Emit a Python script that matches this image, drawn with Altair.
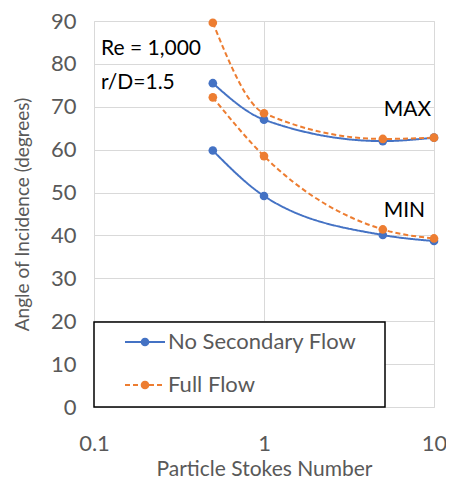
import altair as alt
import pandas as pd

stokes = [0.5, 1, 5, 10]
nosec_max = [75.5, 67.0, 62.0, 62.8]
nosec_min = [59.8, 49.2, 40.1, 38.7]
full_max = [89.6, 68.5, 62.5, 62.8]
full_min = [72.2, 58.5, 41.4, 39.3]

BLUE = "#4472C4"
ORANGE = "#ED7D31"
FONT = "Lato"
GREY = "#595959"

rows = []
for name, ys, case in [("No Secondary Flow", nosec_max, "max"), ("No Secondary Flow", nosec_min, "min"),
                       ("Full Flow", full_max, "max"), ("Full Flow", full_min, "min")]:
    for x, y in zip(stokes, ys):
        rows.append({"st": x, "angle": y, "series": name, "grp": name + case})
df = pd.DataFrame(rows)

xscale = alt.Scale(type="log", domain=[0.1, 10], nice=False)
yscale = alt.Scale(domain=[0, 90], nice=False)

xenc = alt.X("st:Q", scale=xscale,
             axis=alt.Axis(title="Particle Stokes Number", values=[0.1, 1, 10],
                           labelExpr="datum.value < 1 ? '0.1' : format(datum.value, 'd')",
                           ticks=False, domain=False, grid=True, gridColor="#d9d9d9",
                           labelFontSize=22, labelColor=GREY, labelFont=FONT, labelPadding=26,
                           titleFontSize=21, titleColor=GREY, titleFont=FONT, titleFontWeight="normal",
                           titlePadding=4, labelFlush=False))
yenc = alt.Y("angle:Q", scale=yscale,
             axis=alt.Axis(title="Angle of Incidence (degrees)", values=list(range(0, 100, 10)),
                           ticks=False, domain=False, grid=True, gridColor="#d9d9d9",
                           labelFontSize=22, labelColor=GREY, labelFont=FONT, labelPadding=18,
                           titleFontSize=19, titleColor=GREY, titleFont=FONT, titleFontWeight="normal",
                           titlePadding=18))

color = alt.Color("series:N", scale=alt.Scale(domain=["No Secondary Flow", "Full Flow"], range=[BLUE, ORANGE]), legend=None)
dash = alt.StrokeDash("series:N", scale=alt.Scale(domain=["No Secondary Flow", "Full Flow"], range=[[1, 0], [5, 3]]), legend=None)

base = alt.Chart(df)
lines = base.mark_line(interpolate="monotone", strokeWidth=2).encode(x=xenc, y=yenc, color=color, strokeDash=dash, detail="grp:N")
points = base.mark_circle(size=75, opacity=1).encode(x="st:Q", y="angle:Q", color=color)

ann_text = ["Re = 1,000", "r/D=1.5", "MAX", "MIN"]
ann_x = [0.11, 0.11, 6.97, 6.7]
ann_y = [83.5, 75.5, 69.2, 45.7]
ann_align = ["left", "left", "center", "center"]
ann = pd.DataFrame({"t": ann_text, "x": ann_x, "y": ann_y, "a": ann_align})
ann_left = alt.Chart(ann[ann.a == "left"]).mark_text(align="left", baseline="middle", fontSize=21, font=FONT, color="black").encode(x="x:Q", y="y:Q", text="t:N")
ann_center = alt.Chart(ann[ann.a == "center"]).mark_text(align="center", baseline="middle", fontSize=21, font=FONT, color="black").encode(x="x:Q", y="y:Q", text="t:N")

# manual legend (pixel positions inside plot area)
leg_names = ["No Secondary Flow", "Full Flow"]
one = pd.DataFrame({"a": [0]})
box = alt.Chart(one).mark_rect(fill="white", stroke="black", strokeWidth=1.5).encode(
    x=alt.value(0), x2=alt.value(291), y=alt.value(301), y2=alt.value(386))
leg_line1 = alt.Chart(one).mark_rule(color=BLUE, strokeWidth=2).encode(
    x=alt.value(31), x2=alt.value(71), y=alt.value(321))
leg_line2 = alt.Chart(one).mark_rule(color=ORANGE, strokeWidth=2, strokeDash=[5, 3]).encode(
    x=alt.value(31), x2=alt.value(71), y=alt.value(364))
leg_pt1 = alt.Chart(one).mark_circle(size=75, color=BLUE, opacity=1).encode(x=alt.value(51), y=alt.value(321))
leg_pt2 = alt.Chart(one).mark_circle(size=75, color=ORANGE, opacity=1).encode(x=alt.value(51), y=alt.value(364))
leg_t1 = alt.Chart(pd.DataFrame({"t": [leg_names[0]]})).mark_text(align="left", baseline="middle", fontSize=22, font=FONT, color=GREY).encode(
    x=alt.value(74), y=alt.value(321), text="t:N")
leg_t2 = alt.Chart(pd.DataFrame({"t": [leg_names[1]]})).mark_text(align="left", baseline="middle", fontSize=22, font=FONT, color=GREY).encode(
    x=alt.value(74), y=alt.value(364), text="t:N")

chart = alt.layer(lines, points, ann_left, ann_center, box, leg_line1, leg_line2, leg_pt1, leg_pt2, leg_t1, leg_t2).properties(
    width=340, height=386, padding={"left": 86, "top": 13, "right": 12, "bottom": 78},
    autosize=alt.AutoSizeParams(type="none")
).configure_view(stroke=None).configure(background="white")

chart.save("out.html", embed_options={"renderer": "svg", "actions": False})
